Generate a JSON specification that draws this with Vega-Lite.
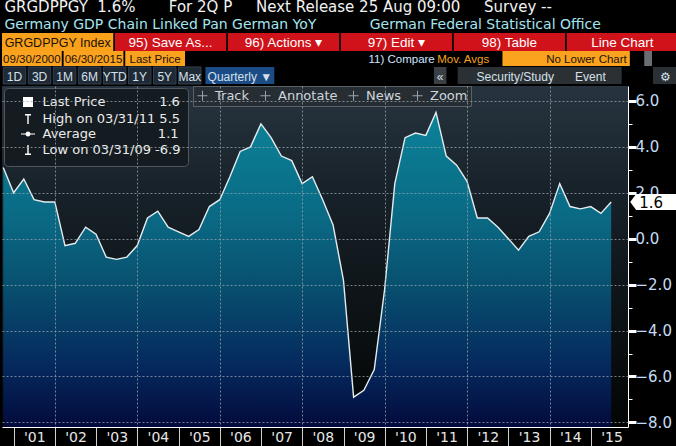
{
  "$schema": "https://vega.github.io/schema/vega-lite/v6.json",
  "background": "black",
  "padding": 0,
  "spacing": 0,
  "resolve": {
    "scale": {"fill": "independent", "color": "independent", "shape": "independent"},
    "legend": {"fill": "independent", "shape": "independent", "color": "independent"}
  },
  "title": {
    "text": "GRGDPPGY\u00a0\u00a01.6%\u00a0\u00a0\u00a0\u00a0\u00a0\u00a0\u00a0For\u00a02Q\u00a0P\u00a0\u00a0\u00a0\u00a0\u00a0Next\u00a0Release\u00a025\u00a0Aug\u00a009:00\u00a0\u00a0\u00a0\u00a0\u00a0Survey\u00a0--",
    "subtitle": "Germany\u00a0GDP\u00a0Chain\u00a0Linked\u00a0Pan\u00a0German\u00a0YoY\u00a0\u00a0\u00a0\u00a0\u00a0\u00a0\u00a0\u00a0\u00a0\u00a0\u00a0\u00a0German\u00a0Federal\u00a0Statistical\u00a0Office",
    "anchor": "start",
    "dx": 4,
    "offset": 1,
    "font": "DejaVu Sans",
    "fontSize": 15,
    "fontWeight": "normal",
    "color": "#f2f2f2",
    "subtitleFont": "DejaVu Sans",
    "subtitleFontSize": 14,
    "subtitleColor": "#a6e4f0",
    "subtitlePadding": 3
  },
  "config": {
    "view": {"stroke": null},
    "axis": {"labelFont": "DejaVu Sans"}
  },
  "vconcat": [
    {
      "width": 676,
      "height": 18,
      "view": {"stroke": null, "fill": "black"},
      "data": {"values": [
        {"item": "GRGDPPGY Index", "kind": "index"},
        {"item": "95) Save As...", "kind": "menu"},
        {"item": "96) Actions ▾", "kind": "menu"},
        {"item": "97) Edit ▾", "kind": "menu"},
        {"item": "98) Table", "kind": "menu"},
        {"item": "Line Chart", "kind": "menu"}
      ]},
      "encoding": {"x": {"field": "item", "type": "nominal", "sort": null, "axis": null, "scale": {"paddingInner": 0.015, "paddingOuter": 0}}},
      "layer": [
        {"mark": {"type": "rect"}, "encoding": {"fill": {"field": "kind", "type": "nominal", "legend": null, "scale": {"domain": ["index", "menu"], "range": ["#f9a11b", "#d0121b"]}}}},
        {"transform": [{"filter": "datum.kind == 'index'"}], "mark": {"type": "text", "font": "Liberation Sans", "fontSize": 12.5, "align": "left", "dx": -53, "baseline": "middle", "dy": 1, "color": "#1a1206"}, "encoding": {"text": {"field": "item"}}},
        {"transform": [{"filter": "datum.kind == 'menu'"}], "mark": {"type": "text", "font": "Liberation Sans", "fontSize": 13.5, "baseline": "middle", "dy": 1, "color": "#ffffff"}, "encoding": {"text": {"field": "item"}}}
      ]
    },
    {
      "width": 676,
      "height": 15,
      "view": {"stroke": null, "fill": "black"},
      "data": {"values": [
        {"item": "09/30/2000", "kind": "field"},
        {"item": "06/30/2015", "kind": "field"},
        {"item": "Last Price", "kind": "field"},
        {"item": "11) Compare", "kind": "label"},
        {"item": "Mov. Avgs", "kind": "accent"},
        {"item": " ", "kind": "block"},
        {"item": "No Lower Chart", "kind": "wide"},
        {"item": "▾", "kind": "drop"}
      ]},
      "encoding": {"x": {"field": "item", "type": "nominal", "axis": null, "scale": {"domain": ["09/30/2000", "06/30/2015", "Last Price", "g1", "g2", "g3", "11) Compare", "Mov. Avgs", " ", "No Lower Chart", "▾"], "paddingInner": 0.03, "paddingOuter": 0}}},
      "layer": [
        {"transform": [{"filter": "datum.kind == 'field'"}], "mark": {"type": "rect", "color": "#fba21e"}},
        {"transform": [{"filter": "datum.kind == 'block'"}], "mark": {"type": "rect", "color": "#fba21e", "width": {"band": 0.75}}},
        {"transform": [{"filter": "datum.kind == 'wide'"}], "mark": {"type": "rect", "color": "#fba21e", "width": {"band": 1.45}}},
        {"transform": [{"filter": "datum.kind == 'drop'"}], "mark": {"type": "rect", "color": "#6a6e72", "width": {"band": 0.13}}},
        {"transform": [{"filter": "datum.kind != 'drop'"}], "mark": {"type": "text", "font": "Liberation Sans", "fontSize": 11.5, "baseline": "middle", "dy": 1}, "encoding": {"text": {"field": "item"}, "color": {"field": "kind", "type": "nominal", "legend": null, "scale": {"domain": ["field", "label", "accent", "block", "wide"], "range": ["#1a1206", "#cfe4ff", "#f6a21e", "#1a1206", "#1a1206"]}}}}
      ]
    },
    {
      "width": 676,
      "height": 17,
      "view": {"stroke": null, "fill": "black"},
      "data": {"values": [
        {"item": "1D", "kind": "range"},
        {"item": "3D", "kind": "range"},
        {"item": "1M", "kind": "range"},
        {"item": "6M", "kind": "range"},
        {"item": "YTD", "kind": "range"},
        {"item": "1Y", "kind": "range"},
        {"item": "5Y", "kind": "range"},
        {"item": "Max", "kind": "range"},
        {"item": "Quarterly ▼", "kind": "sel"},
        {"item": "«", "kind": "tool"},
        {"item": "Security/Study", "kind": "tool"},
        {"item": "Event", "kind": "tool"},
        {"item": "⚙", "kind": "tool"}
      ]},
      "encoding": {"x": {"field": "item", "type": "nominal", "axis": null, "scale": {"domain": ["1D", "3D", "1M", "6M", "YTD", "1Y", "5Y", "Max", "s8", "Quarterly ▼", "s10", "s11", "s12", "s13", "s14", "s15", "s16", "«", "s18", "s19", "Security/Study", "s21", "s22", "Event", "s24", "s25", "⚙"], "paddingInner": 0, "paddingOuter": 0}}},
      "layer": [
        {"transform": [{"filter": "datum.kind == 'range'"}], "mark": {"type": "rect", "width": {"band": 0.9}, "color": "#1f2a36", "stroke": "#34414f", "strokeWidth": 1}},
        {"transform": [{"filter": "datum.kind == 'sel'"}], "mark": {"type": "rect", "width": {"band": 2.75}, "color": "#1c4c86"}},
        {"transform": [{"filter": "datum.item == '«'"}], "mark": {"type": "rect", "width": {"band": 0.5}, "color": "#3a3f45"}},
        {"transform": [{"filter": "datum.item == 'Security/Study'"}], "mark": {"type": "rect", "width": {"band": 4.6}, "color": "#2b3035"}},
        {"transform": [{"filter": "datum.item == 'Event'"}], "mark": {"type": "rect", "width": {"band": 2.5}, "color": "#2b3035"}},
        {"transform": [{"filter": "datum.item == '⚙'"}], "mark": {"type": "rect", "width": {"band": 1.0}, "color": "#2b3035"}},
        {"mark": {"type": "text", "font": "Liberation Sans", "fontSize": 12, "baseline": "middle", "dy": 1, "color": "#d6e0ea"}, "encoding": {"text": {"field": "item"}}}
      ]
    },
    {
      "width": 626,
      "height": 341,
      "view": {"stroke": null, "fill": {"gradient": "linear", "x1": 0, "y1": 0, "x2": 0, "y2": 1, "stops": [{"offset": 0, "color": "#27343f"}, {"offset": 0.3, "color": "#18222a"}, {"offset": 0.65, "color": "#0d1316"}, {"offset": 1, "color": "#030505"}]}},
      "data": {
        "format": {"parse": {"date": "utc:'%Y-%m-%d'"}},
        "values": [
          {"date": "2000-09-30", "value": 3.1},
          {"date": "2000-12-31", "value": 2.0},
          {"date": "2001-03-31", "value": 2.6},
          {"date": "2001-06-30", "value": 1.7},
          {"date": "2001-09-30", "value": 1.6},
          {"date": "2001-12-31", "value": 1.6},
          {"date": "2002-03-31", "value": -0.3},
          {"date": "2002-06-30", "value": -0.2},
          {"date": "2002-09-30", "value": 0.5},
          {"date": "2002-12-31", "value": 0.2},
          {"date": "2003-03-31", "value": -0.8},
          {"date": "2003-06-30", "value": -0.9},
          {"date": "2003-09-30", "value": -0.8},
          {"date": "2003-12-31", "value": -0.3},
          {"date": "2004-03-31", "value": 0.9},
          {"date": "2004-06-30", "value": 1.2},
          {"date": "2004-09-30", "value": 0.5},
          {"date": "2004-12-31", "value": 0.3},
          {"date": "2005-03-31", "value": 0.1},
          {"date": "2005-06-30", "value": 0.4},
          {"date": "2005-09-30", "value": 1.4},
          {"date": "2005-12-31", "value": 1.7},
          {"date": "2006-03-31", "value": 2.7},
          {"date": "2006-06-30", "value": 3.8},
          {"date": "2006-09-30", "value": 4.0},
          {"date": "2006-12-31", "value": 5.0},
          {"date": "2007-03-31", "value": 4.4},
          {"date": "2007-06-30", "value": 3.6},
          {"date": "2007-09-30", "value": 3.4},
          {"date": "2007-12-31", "value": 2.4},
          {"date": "2008-03-31", "value": 2.7},
          {"date": "2008-06-30", "value": 1.7},
          {"date": "2008-09-30", "value": 0.6},
          {"date": "2008-12-31", "value": -1.8},
          {"date": "2009-03-31", "value": -6.9},
          {"date": "2009-06-30", "value": -6.6},
          {"date": "2009-09-30", "value": -5.7},
          {"date": "2009-12-31", "value": -2.2},
          {"date": "2010-03-31", "value": 2.4},
          {"date": "2010-06-30", "value": 4.4},
          {"date": "2010-09-30", "value": 4.6},
          {"date": "2010-12-31", "value": 4.5},
          {"date": "2011-03-31", "value": 5.5},
          {"date": "2011-06-30", "value": 3.6},
          {"date": "2011-09-30", "value": 3.2},
          {"date": "2011-12-31", "value": 2.5},
          {"date": "2012-03-31", "value": 0.9},
          {"date": "2012-06-30", "value": 0.9},
          {"date": "2012-09-30", "value": 0.5},
          {"date": "2012-12-31", "value": 0.0},
          {"date": "2013-03-31", "value": -0.5},
          {"date": "2013-06-30", "value": 0.1},
          {"date": "2013-09-30", "value": 0.3},
          {"date": "2013-12-31", "value": 1.1},
          {"date": "2014-03-31", "value": 2.4},
          {"date": "2014-06-30", "value": 1.4},
          {"date": "2014-09-30", "value": 1.3},
          {"date": "2014-12-31", "value": 1.4},
          {"date": "2015-03-31", "value": 1.1},
          {"date": "2015-06-30", "value": 1.6}
        ]
      },
      "resolve": {"axis": {"y": "independent"}},
      "layer": [
        {
          "mark": {"type": "area", "fill": {"gradient": "linear", "x1": 0, "y1": 0, "x2": 0, "y2": 1, "stops": [{"offset": 0, "color": "#0b8399"}, {"offset": 0.35, "color": "#0a6883"}, {"offset": 0.55, "color": "#08506f"}, {"offset": 0.8, "color": "#052a5e"}, {"offset": 1, "color": "#030a3c"}]}},
          "encoding": {
            "x": {
              "field": "date", "type": "temporal",
              "scale": {"type": "utc", "domain": [{"year": 2000, "month": 9, "date": 19, "utc": true}, {"year": 2015, "month": 11, "date": 26, "utc": true}]},
              "axis": {
                "orient": "bottom", "title": null,
                "tickCount": {"interval": "year", "step": 1},
                "labelExpr": "\"'\" + utcFormat(datum.value, '%y')",
                "labelOffset": 20.6, "labelAlign": "center", "labelFlush": false, "labelOverlap": false, "labelBound": false,
                "labelPadding": -16, "labelFontSize": 14, "labelColor": "#e6e6e6", "labelFont": "DejaVu Sans",
                "tickSize": 19, "tickColor": "#d0d0d0", "tickWidth": 1,
                "domainColor": "#ffffff", "domainWidth": 1,
                "grid": true, "gridColor": "#9aa6ad", "gridDash": [2, 2], "gridWidth": 1,
                "gridOpacity": {"condition": {"test": "utcyear(datum.value) % 2 == 1", "value": 0}, "value": 0.75},
                "zindex": 1
              }
            },
            "y": {
              "field": "value", "type": "quantitative",
              "scale": {"domain": [-8.2, 6.65], "nice": false, "zero": false},
              "axis": {"orient": "left", "title": null, "values": [-8, -6, -4, -2, 0, 2, 4, 6], "grid": true, "gridColor": "#9aa6ad", "gridDash": [2, 2], "gridOpacity": 0.75, "labels": false, "ticks": false, "domain": false, "zindex": 1}
            },
            "y2": {"datum": -8.2}
          }
        },
        {
          "mark": {"type": "line", "color": "#e4ecef", "strokeWidth": 1.4},
          "encoding": {
            "x": {"field": "date", "type": "temporal", "axis": {"labelExpr": "\"'\" + utcFormat(datum.value, '%y')"}},
            "y": {
              "field": "value", "type": "quantitative",
              "axis": {
                "orient": "right", "title": null, "grid": false,
                "values": [-8, -7, -6, -5, -4, -3, -2, -1, 0, 1, 2, 3, 4, 5, 6],
                "labelExpr": "datum.value % 2 == 0 ? format(datum.value, '.1f') : ''",
                "labelColor": "#c4dcf4", "labelFontSize": 15, "labelFont": "DejaVu Sans", "labelPadding": -1,
                "labelOverlap": false, "labelFlush": false, "labelBound": false,
                "tickColor": "#ffffff",
                "tickSize": {"condition": {"test": "datum.value % 2 == 0", "value": 8}, "value": 4},
                "tickWidth": {"condition": {"test": "datum.value % 2 == 0", "value": 3}, "value": 1},
                "domainColor": "#ffffff", "domainWidth": 1, "zindex": 0
              }
            }
          }
        },
        {
          "transform": [{"filter": "utcyear(datum.date) == 2015 && utcmonth(datum.date) == 5"}],
          "mark": {"type": "point", "shape": "M19,0L25,-8L66,-8L66,8L25,8Z", "size": 4, "filled": true, "color": "#ffffff", "opacity": 1},
          "encoding": {
            "x": {"field": "date", "type": "temporal", "axis": {"labelExpr": "\"'\" + utcFormat(datum.value, '%y')"}},
            "y": {"field": "value", "type": "quantitative", "axis": null}
          }
        },
        {
          "transform": [{"filter": "utcyear(datum.date) == 2015 && utcmonth(datum.date) == 5"}],
          "mark": {"type": "text", "align": "left", "baseline": "middle", "dx": 28, "dy": 1, "fontSize": 15, "font": "DejaVu Sans", "color": "#000000"},
          "encoding": {
            "x": {"field": "date", "type": "temporal", "axis": {"labelExpr": "\"'\" + utcFormat(datum.value, '%y')"}},
            "y": {"field": "value", "type": "quantitative", "axis": null},
            "text": {"field": "value", "format": ".1f"}
          }
        },
        {
          "data": {"values": [
            {"stat": "Last Price\u00a0\u00a0\u00a0\u00a0\u00a0\u00a0\u00a0\u00a0\u00a0\u00a0\u00a0\u00a0\u00a01.6"},
            {"stat": "High on 03/31/11\u00a05.5"},
            {"stat": "Average\u00a0\u00a0\u00a0\u00a0\u00a0\u00a0\u00a0\u00a0\u00a0\u00a0\u00a0\u00a0\u00a0\u00a0\u00a01.1"},
            {"stat": "Low on 03/31/09\u00a0-6.9"}
          ]},
          "mark": {"type": "point", "opacity": 0, "filled": true, "color": "#ffffff"},
          "encoding": {
            "shape": {
              "field": "stat", "type": "nominal",
              "scale": {
                "domain": ["Last Price\u00a0\u00a0\u00a0\u00a0\u00a0\u00a0\u00a0\u00a0\u00a0\u00a0\u00a0\u00a0\u00a01.6", "High on 03/31/11\u00a05.5", "Average\u00a0\u00a0\u00a0\u00a0\u00a0\u00a0\u00a0\u00a0\u00a0\u00a0\u00a0\u00a0\u00a0\u00a0\u00a01.1", "Low on 03/31/09\u00a0-6.9"],
                "range": ["square", "M-0.6,-1H0.6V-0.72H0.14V1H-0.14V-0.72H-0.6Z", "M-1.4,-0.12H1.4V0.12H-1.4ZM0.5,0A0.5,0.5,0,1,1,-0.5,0A0.5,0.5,0,1,1,0.5,0Z", "M-0.14,-1H0.14V0.72H0.6V1H-0.6V0.72H-0.14Z"]
              },
              "legend": {
                "title": null, "orient": "top-left", "offset": 2, "padding": 7.5,
                "fillColor": "#151c21", "strokeColor": "#50575d", "cornerRadius": 4,
                "labelFont": "DejaVu Sans", "labelFontSize": 13, "labelColor": "#ececec", "labelLimit": 220,
                "symbolSize": 100, "symbolFillColor": "#ffffff", "symbolOpacity": 1,
                "rowPadding": 0, "labelOffset": 8, "symbolOffset": 10
              }
            }
          }
        },
        {
          "data": {"values": [{"tool": "Track"}, {"tool": "Annotate"}, {"tool": "News"}, {"tool": "Zoom"}]},
          "mark": {"type": "point", "opacity": 0},
          "encoding": {
            "fill": {
              "field": "tool", "type": "nominal",
              "scale": {"domain": ["Track", "Annotate", "News", "Zoom"], "range": ["#9aa3aa", "#9aa3aa", "#9aa3aa", "#9aa3aa"]},
              "legend": {
                "title": null, "orient": "none", "legendX": 191, "legendY": 0, "direction": "horizontal",
                "fillColor": "#262e34", "strokeColor": "#5a6168", "padding": 3, "columnPadding": 8,
                "labelColor": "#d0d6dc", "labelFontSize": 13, "labelFont": "DejaVu Sans",
                "symbolType": "M-1,0H1M0,-1V1", "symbolSize": 100, "symbolStrokeColor": "#9aa3aa", "symbolStrokeWidth": 1, "symbolOpacity": 1, "labelOffset": 6
              }
            }
          }
        }
      ]
    }
  ]
}
